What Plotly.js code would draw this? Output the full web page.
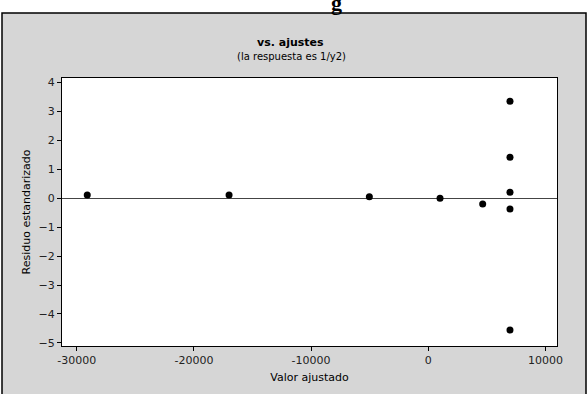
<!DOCTYPE html>
<html>
<head>
<meta charset="utf-8">
<script src="https://cdn.plot.ly/plotly-3.0.1.min.js"></script>
<style>html,body{margin:0;padding:0;background:#fff;}#chart{width:588px;height:394px;}</style>
</head>
<body>
<div id="chart"></div>
<script>
// Data
var fittedValues = [-29100, -17000, -5030, 1000, 4640, 6970, 6970, 6970, 6970, 6970];
var stdResiduals = [0.11, 0.11, 0.05, 0.0, -0.20, 3.36, 1.42, 0.21, -0.37, -4.56];
var xTickVals = [-30000, -20000, -10000, 0, 10000];
var xTickText = ['-30000', '-20000', '-10000', '0', '10000'];
var yTickVals = [4, 3, 2, 1, 0, -1, -2, -3, -4, -5];

var font = 'DejaVu Sans, Verdana, sans-serif';

var trace = {
  type: 'scatter',
  mode: 'markers',
  x: fittedValues,
  y: stdResiduals,
  marker: {color: '#000', size: 7, line: {width: 0}},
  hoverinfo: 'skip'
};

// plot area: left 62, right 557, top 78, bottom 346
var W = 495, H = 268;
function px(p) { return (p - 62) / W; }
function py(p) { return (346 - p) / H; }

var layout = {
  width: 588, height: 394,
  margin: {l: 62, r: 31, t: 78, b: 48},
  paper_bgcolor: '#fff',
  plot_bgcolor: 'rgba(0,0,0,0)',
  showlegend: false,
  font: {family: font, size: 11, color: '#111'},
  xaxis: {
    range: [-31254, 10981],
    tickmode: 'array', tickvals: xTickVals, ticktext: xTickText,
    ticks: 'outside', ticklen: 4, tickwidth: 1, tickcolor: '#000',
    showgrid: false, zeroline: false,
    showline: true, linecolor: '#000', linewidth: 1, mirror: true,
    tickfont: {family: font, size: 11, color: '#222'},
    title: {text: 'Valor ajustado', font: {family: font, size: 11, color: '#000'}, standoff: 7}
  },
  yaxis: {
    range: [-5.11, 4.16],
    tickmode: 'array', tickvals: yTickVals,
    ticks: 'outside', ticklen: 4, tickwidth: 1, tickcolor: '#000',
    showgrid: false,
    zeroline: true, zerolinecolor: '#444', zerolinewidth: 1,
    showline: true, linecolor: '#000', linewidth: 1, mirror: true,
    tickfont: {family: font, size: 11, color: '#222'},
    title: {text: 'Residuo estandarizado', font: {family: font, size: 11, color: '#000'}, standoff: 5}
  },
  shapes: [
    {type: 'rect', xref: 'paper', yref: 'paper', layer: 'below',
     x0: px(2), x1: px(586), y0: py(400), y1: py(13),
     fillcolor: '#d6d6d6', line: {color: '#000', width: 1.5}},
    {type: 'rect', xref: 'paper', yref: 'paper', layer: 'below',
     x0: 0, x1: 1, y0: 0, y1: 1,
     fillcolor: '#fff', line: {width: 0}}
  ],
  annotations: [
    {text: '<b>g</b>', xref: 'paper', yref: 'paper', x: px(336), y: py(3),
     xanchor: 'center', yanchor: 'middle', showarrow: false,
     font: {family: 'Liberation Serif, Times New Roman, serif', size: 22, color: '#000'}},
    {text: '<b>vs. ajustes</b>', xref: 'paper', yref: 'paper', x: px(290), y: py(42),
     xanchor: 'center', yanchor: 'middle', showarrow: false,
     font: {family: font, size: 11, color: '#000'}},
    {text: '(la respuesta es 1/y2)', xref: 'paper', yref: 'paper', x: px(291), y: py(56),
     xanchor: 'center', yanchor: 'middle', showarrow: false,
     font: {family: font, size: 10, color: '#000'}}
  ]
};

Plotly.newPlot('chart', [trace], layout, {displayModeBar: false, staticPlot: true});
</script>
</body>
</html>
